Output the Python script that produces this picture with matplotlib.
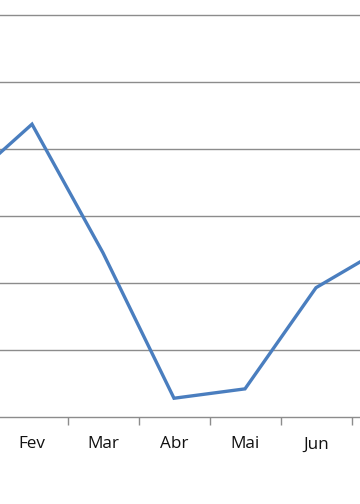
import matplotlib
matplotlib.use("Agg")
import matplotlib.pyplot as plt
import numpy as np

months = ["Jan", "Fev", "Mar", "Abr", "Mai", "Jun", "Jul"]
values = [3.42, 4.37, 2.45, 0.28, 0.42, 1.93, 2.55]

fig = plt.figure(figsize=(3.6, 5.04), dpi=100)
ax = fig.add_axes([0, 87 / 504, 1, 417 / 504])

x = np.arange(len(months))
ax.plot(x, values, color="#4A7EBF", linewidth=2.4, solid_joinstyle="miter", zorder=3)

for y in range(1, 7):
    ax.axhline(y, color="#8C8C8C", linewidth=1.0, zorder=1)

ax.set_xticks(x)
ax.set_xticklabels(months, fontsize=12.3, family="Open Sans", color="#111111")
ax.set_xticks(x[:-1] + 0.5, minor=True)
ax.tick_params(axis="x", which="major", length=0, pad=14)
ax.tick_params(axis="x", which="minor", length=6, width=1, color="#8C8C8C")
ax.set_yticks([])

# crop the view like the original screenshot (set after ticks, which can widen limits)
ax.set_xlim(1 - 32 / 71, 1 + 328 / 71)
ax.set_ylim(0, 417 / 67)

for side in ["top", "left", "right"]:
    ax.spines[side].set_visible(False)
ax.spines["bottom"].set_color("#8C8C8C")
ax.spines["bottom"].set_linewidth(1.0)

fig.savefig("out.png", dpi=100)
